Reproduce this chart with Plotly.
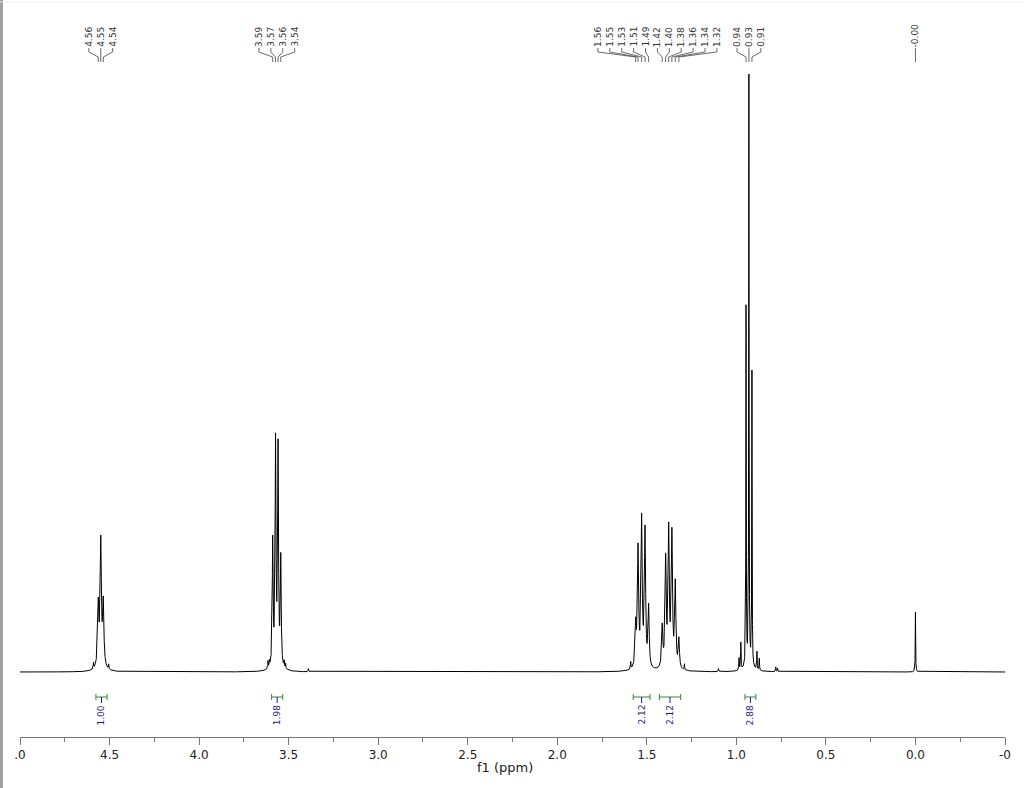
import numpy as np
import plotly.graph_objects as go

# ---------------- data ----------------
# main resonances: ppm positions and observed peak heights (tallest = 1)
peak_ppm_A = [4.563, 4.549, 4.535]
peak_int_A = [0.125, 0.229, 0.127]
peak_ppm_B = [3.589, 3.573, 3.559, 3.544]
peak_int_B = [0.229, 0.400, 0.390, 0.200]
peak_ppm_C = [1.562, 1.549, 1.529, 1.510, 1.490]
peak_int_C = [0.092, 0.216, 0.266, 0.246, 0.115]
peak_ppm_D = [1.414, 1.395, 1.378, 1.360, 1.341, 1.321]
peak_int_D = [0.082, 0.199, 0.251, 0.242, 0.156, 0.059]
peak_ppm_E = [0.946, 0.930, 0.913]
peak_int_E = [0.614, 1.000, 0.505]
peak_ppm_T = [0.000]
peak_int_T = [0.100]

# small satellite / impurity lines
minor_ppm = [4.590, 4.505, 3.615, 3.607, 3.525, 3.517, 3.390,
             1.590, 1.290, 1.100, 0.985, 0.975, 0.885, 0.872, 0.780, 0.770]
minor_int = [0.010, 0.008, 0.012, 0.010, 0.010, 0.008, 0.005,
             0.012, 0.010, 0.005, 0.020, 0.045, 0.030, 0.020, 0.008, 0.006]

# broad bases under multiplets
base_ppm = [4.549, 3.566, 1.530, 1.370, 0.930]
base_int = [0.010, 0.012, 0.010, 0.010, 0.015]

# peak label groups (text shown at top)
labels_A = ["4.56", "4.55", "4.54"]
labels_B = ["3.59", "3.57", "3.56", "3.54"]
labels_CD = ["1.56", "1.55", "1.53", "1.51", "1.49",
             "1.42", "1.40", "1.38", "1.36", "1.34", "1.32"]
labels_E = ["0.94", "0.93", "0.91"]
labels_T = ["-0.00"]

# integrals
integral_from = [4.576, 3.595, 1.576, 1.430, 0.952]
integral_to = [4.514, 3.533, 1.482, 1.311, 0.891]
integral_val = ["1.00", "1.98", "2.12", "2.12", "2.88"]

# axis ticks
tick_vals = [5.0, 4.5, 4.0, 3.5, 3.0, 2.5, 2.0, 1.5, 1.0, 0.5, 0.0, -0.5]
tick_text = [".0", "4.5", "4.0", "3.5", "3.0", "2.5", "2.0", "1.5", "1.0", "0.5", "0.0", "-0"]
minor_tick_vals = [4.75, 4.25, 3.75, 3.25, 2.75, 2.25, 1.75, 1.25, 0.75, 0.25, -0.25]

# ---------------- layout geometry ----------------
W, H = 1024, 788
ML, MR, MT, MB = 20, 19, 0, 51
PLOT_W = W - ML - MR
PLOT_H = H - MT - MB
BASE_PX, TOP_PX = 672, 74
SCALE = BASE_PX - TOP_PX
PX_PER_PPM = PLOT_W / 5.5


def py(p):
    return (BASE_PX - p) / SCALE


Y_LO, Y_HI = py(MT + PLOT_H), py(MT)

# ---------------- spectrum construction ----------------
gam = {"A": 0.0040, "B": 0.0028, "C": 0.0038, "D": 0.0038, "E": 0.0012, "T": 0.0012}
main_pos, main_h, main_g = [], [], []
for key, pp, hh in [("A", peak_ppm_A, peak_int_A), ("B", peak_ppm_B, peak_int_B),
                    ("C", peak_ppm_C, peak_int_C), ("D", peak_ppm_D, peak_int_D),
                    ("E", peak_ppm_E, peak_int_E), ("T", peak_ppm_T, peak_int_T)]:
    main_pos += pp
    main_h += hh
    main_g += [gam[key]] * len(pp)
main_pos = np.array(main_pos)
main_h = np.array(main_h)
main_g = np.array(main_g)


def lor(x, x0, g):
    return g * g / (g * g + (x - x0) ** 2)


def background(x):
    out = np.zeros_like(x, dtype=float)
    for p, h in zip(minor_ppm, minor_int):
        out += h * lor(x, p, 0.0015)
    for p, h in zip(base_ppm, base_int):
        out += h * lor(x, p, 0.02)
    return out


M = lor(main_pos[:, None], main_pos[None, :], main_g[None, :])
amps = np.linalg.solve(M, main_h - background(main_pos))

xs = np.union1d(np.arange(-0.5, 5.0 + 1e-9, 0.0002), main_pos)
ys = background(xs)
for p, a, g in zip(main_pos, amps, main_g):
    ys += a * lor(xs, p, g)

fig = go.Figure()
fig.add_trace(go.Scatter(x=xs, y=ys, mode="lines",
                         line=dict(color="#000000", width=1), hoverinfo="skip"))

# ---------------- peak labels with leader lines ----------------
SP = 11.9 / PX_PER_PPM
groups = [(labels_A, peak_ppm_A), (labels_B, peak_ppm_B),
          (labels_CD, peak_ppm_C + peak_ppm_D), (labels_E, peak_ppm_E),
          (labels_T, peak_ppm_T)]
lead_x, lead_y = [], []
annotations = []
for labs, pks in groups:
    n = len(labs)
    c = float(np.mean(pks))
    for k, (t, pk) in enumerate(zip(labs, pks)):
        lx = c + ((n - 1) / 2 - k) * SP
        lead_x += [lx, lx, pk, pk, None]
        lead_y += [py(48), py(52), py(57), py(62), None]
        annotations.append(dict(x=lx, y=py(48), xref="x", yref="y", text=t,
                                textangle=-90, showarrow=False,
                                xanchor="center", yanchor="bottom",
                                borderpad=0,
                                font=dict(size=9, color="#333333", family="DejaVu Sans")))
fig.add_trace(go.Scatter(x=lead_x, y=lead_y, mode="lines",
                         line=dict(color="#444444", width=0.8), hoverinfo="skip"))

# ---------------- integrals ----------------
br_x, br_y, st_x, st_y = [], [], [], []
for f, t, v in zip(integral_from, integral_to, integral_val):
    m = (f + t) / 2
    br_x += [f, t, None, f, f, None, t, t, None]
    br_y += [py(697), py(697), None, py(694), py(700), None, py(694), py(700), None]
    st_x += [m, m, None]
    st_y += [py(697), py(703), None]
    annotations.append(dict(x=m, y=py(704), xref="x", yref="y", text=v,
                            textangle=-90, showarrow=False,
                            xanchor="center", yanchor="top", borderpad=0,
                            font=dict(size=9, color="#1c1c80", family="DejaVu Sans")))
fig.add_trace(go.Scatter(x=br_x, y=br_y, mode="lines",
                         line=dict(color="#2e8b2e", width=1), hoverinfo="skip"))
fig.add_trace(go.Scatter(x=st_x, y=st_y, mode="lines",
                         line=dict(color="#1c1c80", width=1), hoverinfo="skip"))

annotations.append(dict(x=2.29, y=-(767 - PLOT_H) / PLOT_H, xref="x", yref="paper",
                        text="f1 (ppm)", showarrow=False, xanchor="center", yanchor="middle",
                        font=dict(size=13, color="#222222", family="DejaVu Sans")))

shapes = [
    dict(type="rect", xref="paper", yref="paper", x0=-ML / PLOT_W, x1=-(ML - 3) / PLOT_W,
         y0=-MB / PLOT_H, y1=1, fillcolor="#a0a0a0", line=dict(width=0), layer="above"),
    dict(type="line", xref="paper", yref="paper", x0=-ML / PLOT_W, x1=1 + MR / PLOT_W,
         y0=1 - 2 / PLOT_H, y1=1 - 2 / PLOT_H, line=dict(color="#eeeeee", width=1)),
]

fig.update_layout(
    width=W, height=H,
    margin=dict(l=ML, r=MR, t=MT, b=MB, pad=0),
    paper_bgcolor="white", plot_bgcolor="white",
    showlegend=False,
    annotations=annotations,
    shapes=shapes,
    xaxis=dict(range=[5.0, -0.5], tickmode="array", tickvals=tick_vals, ticktext=tick_text,
               ticks="outside", ticklen=7, tickcolor="#777777", tickwidth=1,
               showline=True, linecolor="#777777", linewidth=1,
               showgrid=False, zeroline=False,
               tickfont=dict(size=12, color="#222222", family="DejaVu Sans"),
               minor=dict(tickmode="array", tickvals=minor_tick_vals, ticks="outside",
                          ticklen=4, tickcolor="#777777", showgrid=False)),
    yaxis=dict(range=[Y_LO, Y_HI], visible=False, showgrid=False, zeroline=False),
)

fig.write_html("out.html", config={"displayModeBar": False},
               post_script="document.body.style.margin='0';document.body.style.overflow='hidden';")
